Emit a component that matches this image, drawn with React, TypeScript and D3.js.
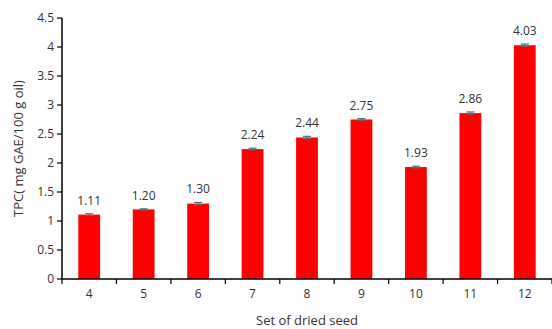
import React from 'react';
import * as d3 from 'd3';

const categories = ['4', '5', '6', '7', '8', '9', '10', '11', '12'];
const values = [1.11, 1.2, 1.3, 2.24, 2.44, 2.75, 1.93, 2.86, 4.03];
const errors = [0.015, 0.01, 0.02, 0.015, 0.02, 0.015, 0.015, 0.02, 0.02];
const yTicks = [0, 0.5, 1, 1.5, 2, 2.5, 3, 3.5, 4, 4.5];

const width = 552;
const height = 329;
const margin = { left: 62, right: 0, top: 18, bottom: 50 };
const font = 'Open Sans, sans-serif';

export default () => {
  const x = d3
    .scaleBand()
    .domain(categories)
    .range([margin.left, width - margin.right])
    .paddingInner(0.6)
    .paddingOuter(0.3);
  const y = d3
    .scaleLinear()
    .domain([0, 4.5])
    .range([height - margin.bottom, margin.top]);

  const step = x.step();
  const y0 = y(0);
  const boundaries = d3.range(categories.length + 1).map(i => margin.left + i * step);

  return (
    <svg
      width={width}
      height={height}
      style={{ position: 'absolute', left: 0, top: 0, background: '#fff' }}
    >
      {/* bars */}
      {categories.map((c, i) => (
        <rect
          key={c}
          x={x(c)}
          y={y(values[i])}
          width={x.bandwidth()}
          height={y0 - y(values[i])}
          fill="#ff0000"
        />
      ))}
      {/* error bars */}
      {categories.map((c, i) => {
        const cx = (x(c) as number) + x.bandwidth() / 2;
        return (
          <g key={'e' + c} stroke="#666" strokeWidth={1.2}>
            <line x1={cx} x2={cx} y1={y(values[i] + errors[i])} y2={y(values[i] - errors[i])} />
            <line x1={cx - 4} x2={cx + 4} y1={y(values[i] + errors[i])} y2={y(values[i] + errors[i])} />
            <line x1={cx - 4} x2={cx + 4} y1={y(values[i] - errors[i])} y2={y(values[i] - errors[i])} />
          </g>
        );
      })}
      {/* value labels */}
      {categories.map((c, i) => (
        <text
          key={'v' + c}
          x={(x(c) as number) + x.bandwidth() / 2}
          y={y(values[i] + errors[i]) - 9}
          textAnchor="middle"
          fontFamily={font}
          fontSize={12}
          fill="#333"
        >
          {values[i].toFixed(2)}
        </text>
      ))}
      {/* y axis */}
      <line x1={margin.left} x2={margin.left} y1={y(4.5)} y2={y0} stroke="#000" strokeWidth={1.5} />
      {yTicks.map(t => (
        <g key={'y' + t}>
          <line x1={margin.left - 5} x2={margin.left} y1={y(t)} y2={y(t)} stroke="#000" strokeWidth={1.2} />
          <text
            x={margin.left - 8}
            y={y(t)}
            dy="0.35em"
            textAnchor="end"
            fontFamily={font}
            fontSize={12}
            fill="#333"
          >
            {t}
          </text>
        </g>
      ))}
      {/* x axis */}
      <line x1={margin.left} x2={width} y1={y0} y2={y0} stroke="#000" strokeWidth={1.5} />
      {boundaries.map((b, i) => (
        <line key={'xt' + i} x1={b} x2={b} y1={y0} y2={y0 + 5} stroke="#000" strokeWidth={1.2} />
      ))}
      {categories.map(c => (
        <text
          key={'xl' + c}
          x={(x(c) as number) + x.bandwidth() / 2}
          y={y0 + 19}
          textAnchor="middle"
          fontFamily={font}
          fontSize={12}
          fill="#333"
        >
          {c}
        </text>
      ))}
      <text
        x={(margin.left + width) / 2}
        y={y0 + 46}
        textAnchor="middle"
        fontFamily={font}
        fontSize={13}
        fill="#333"
      >
        Set of dried seed
      </text>
      <text
        transform={`translate(18, ${(y(4.5) + y0) / 2}) rotate(-90)`}
        textAnchor="middle"
        dy="0.35em"
        fontFamily={font}
        fontSize={13}
        fill="#333"
      >
        TPC( mg GAE/100 g oil)
      </text>
    </svg>
  );
};
